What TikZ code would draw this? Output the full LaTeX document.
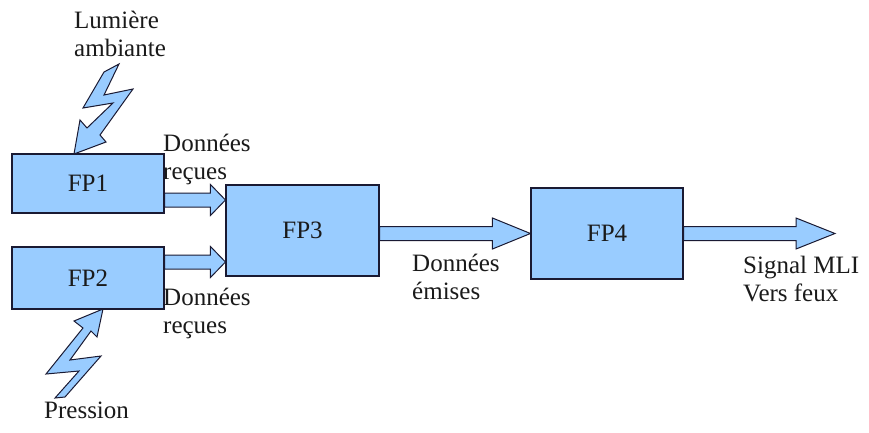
\documentclass[tikz,border=0pt]{standalone}
\usepackage{fontspec}
\setmainfont{Liberation Serif}
\usetikzlibrary{calc}
\definecolor{boxfill}{HTML}{99CCFF}
\definecolor{edge}{HTML}{1A1A33}
\definecolor{txt}{HTML}{1A1A1A}
\newcommand\blockarrow[3]{%
  \draw[blk] let \p1=(#1), \p2=(#2) in
    (\x1,\y1+7pt) -- (\x2-#3pt,\y1+7pt) -- (\x2-#3pt,\y1+15.5pt) -- (\x2,\y1)
    -- (\x2-#3pt,\y1-15.5pt) -- (\x2-#3pt,\y1-7pt) -- (\x1,\y1-7pt) -- cycle;}
\begin{document}
\begin{tikzpicture}[x=1pt,y=-1pt,
  fbox/.style={draw=edge, fill=boxfill, line width=1.1pt, inner sep=0pt,
    font=\fontsize{25}{28}\selectfont, text=txt},
  lbl/.style={inner sep=0pt, align=left, anchor=base west,
    font=\fontsize{25}{28}\selectfont, text=txt},
  blk/.style={draw=edge, fill=boxfill, line width=1pt, line join=miter},
  bolt/.style={draw=edge, fill=boxfill, line width=1pt, line join=miter}]
\useasboundingbox (0,0) rectangle (869,433);
% blocks
\node[fbox, minimum width=152pt, minimum height=59pt] (fp1) at (88,183.5) {FP1};
\node[fbox, minimum width=152pt, minimum height=62pt] (fp2) at (88,278) {FP2};
\node[fbox, minimum width=153pt, minimum height=91pt] (fp3) at (302.5,230.5) {FP3};
\node[fbox, minimum width=152pt, minimum height=91pt] (fp4) at (607,233.5) {FP4};
% connector end points
\coordinate (a1s) at ($(fp1.east)+(0,16.5)$);
\coordinate (a1e) at (fp3.west |- a1s);
\coordinate (a2s) at ($(fp2.east)+(0,-16)$);
\coordinate (a2e) at (fp3.west |- a2s);
\coordinate (a3s) at (fp3.east |- fp4.west);
\coordinate (out) at (835,233.5);
% block arrows
\blockarrow{a1s}{a1e}{15}
\blockarrow{a2s}{a2e}{15}
\blockarrow{a3s}{fp4.west}{38}
\blockarrow{fp4.east}{out}{39}
% lightning bolts
\draw[bolt] (104,72) -- (119,64) -- (104,95) -- (133,89) -- (100,135)
  -- (106,142) -- (74,154) -- (80,120) -- (87,128) -- (113,103) -- (83,108) -- cycle;
\draw[bolt] (103,309) -- (97,337) -- (91,331) -- (70,360) -- (101,356)
  -- (65,397) -- (55,398) -- (79,371) -- (46,374) -- (83,328) -- (74,321) -- cycle;
% labels
\node[lbl] (l1) at (74,57) {Lumière\\ambiante};
\node[lbl] (l2) at (163,179) {Données\\reçues};
\node[lbl] (l3) at (163,333) {Données\\reçues};
\node[lbl] (l4) at (412,299) {Données\\émises};
\node[lbl] (l5) at (743,301) {Signal MLI\\Vers feux};
\node[lbl] (l6) at (44,418) {Pression};
\end{tikzpicture}
\end{document}
